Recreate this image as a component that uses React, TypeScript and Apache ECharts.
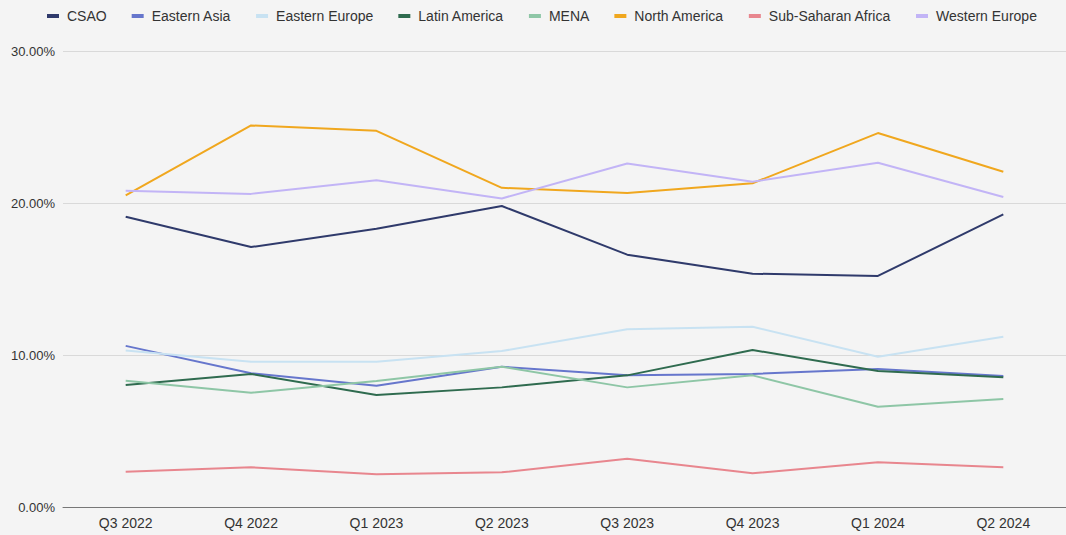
import React, { useEffect, useRef } from "react";
import * as echarts from "echarts";

const categories = ["Q3 2022", "Q4 2022", "Q1 2023", "Q2 2023", "Q3 2023", "Q4 2023", "Q1 2024", "Q2 2024"];

const csao = [19.1, 17.1, 18.3, 19.8, 16.6, 15.35, 15.2, 19.25];
const easternAsia = [10.6, 8.8, 7.98, 9.23, 8.66, 8.75, 9.08, 8.62];
const easternEurope = [10.3, 9.55, 9.55, 10.26, 11.7, 11.86, 9.89, 11.2];
const latinAmerica = [8.03, 8.75, 7.37, 7.87, 8.66, 10.33, 8.95, 8.53];
const mena = [8.3, 7.52, 8.29, 9.23, 7.87, 8.66, 6.6, 7.1];
const northAmerica = [20.5, 25.1, 24.75, 21.0, 20.65, 21.3, 24.6, 22.06];
const subSaharanAfrica = [2.32, 2.61, 2.15, 2.28, 3.18, 2.22, 2.94, 2.61];
const westernEurope = [20.8, 20.6, 21.5, 20.3, 22.6, 21.4, 22.65, 20.4];

const seriesNames = ["CSAO", "Eastern Asia", "Eastern Europe", "Latin America", "MENA", "North America", "Sub-Saharan Africa", "Western Europe"];
const seriesData = [csao, easternAsia, easternEurope, latinAmerica, mena, northAmerica, subSaharanAfrica, westernEurope];
const seriesColors = ["#2f3a6b", "#6676cc", "#c8e2f2", "#2f6b4f", "#8ec6a6", "#f0a71e", "#e8868e", "#c2b4f6"];

export default function App() {
  const ref = useRef<HTMLDivElement>(null);
  useEffect(() => {
    if (!ref.current) return;
    const chart = echarts.init(ref.current, undefined, { renderer: "svg" });
    chart.setOption({
      animation: false,
      backgroundColor: "#f4f4f4",
      textStyle: { fontFamily: "Liberation Sans, Arial, sans-serif" },
      legend: {
        top: 4,
        left: 42,
        itemWidth: 12,
        itemHeight: 4,
        itemGap: 25,
        icon: "rect",
        textStyle: {
          color: "#333",
          fontSize: 14,
          padding: [0, 0, 0, 3],
          fontFamily: "Liberation Sans, Arial, sans-serif",
        },
        data: seriesNames,
      },
      grid: { left: 63, top: 51, width: 1005, height: 456, containLabel: false },
      xAxis: {
        type: "category",
        data: categories,
        boundaryGap: true,
        axisLine: { show: true, lineStyle: { color: "#777", width: 1 } },
        axisTick: { show: false },
        axisLabel: { color: "#333", fontSize: 14, margin: 9 },
      },
      yAxis: {
        type: "value",
        min: 0,
        max: 30,
        interval: 10,
        axisLine: { show: false },
        axisTick: { show: false },
        splitLine: { lineStyle: { color: "#d9d9d9", width: 1 } },
        axisLabel: {
          color: "#333",
          fontSize: 13,
          margin: 8,
          formatter: (v: number) => v.toFixed(2) + "%",
        },
      },
      series: seriesNames.map((name, i) => ({
        name,
        type: "line",
        data: seriesData[i],
        symbol: "none",
        showSymbol: false,
        lineStyle: { width: 2, color: seriesColors[i] },
        itemStyle: { color: seriesColors[i] },
      })),
    });
    return () => chart.dispose();
  }, []);
  return (
    <div
      ref={ref}
      style={{ position: "absolute", left: 0, top: 0, width: 1066, height: 535 }}
    />
  );
}
